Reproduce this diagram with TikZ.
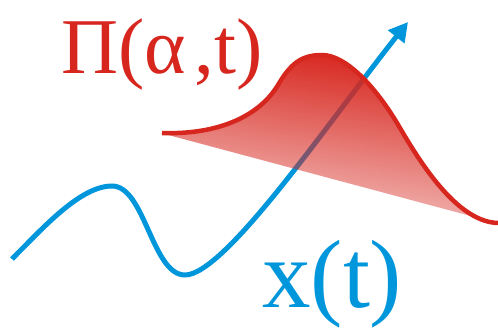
\documentclass[tikz,border=0pt]{standalone}
\usepackage{fontspec}
\setmainfont{Liberation Serif}
\usetikzlibrary{arrows.meta,fadings}
\definecolor{myred}{RGB}{215,38,30}
\definecolor{myblue}{RGB}{0,150,219}
\tikzfading[name=bellfade, top color=transparent!0, middle color=transparent!30, bottom color=transparent!72]
\tikzset{
  xcurve/.style={draw=myblue, line width=5pt, -{Triangle[length=19pt,width=20pt]}},
  bellline/.style={draw=myred, line width=4.5pt},
  bellfill/.style={fill=myred, path fading=bellfade, fading angle=-15},
  bigred/.style={text=myred, inner sep=0pt, anchor=base west, font=\fontsize{79}{79}\selectfont},
  bigblue/.style={text=myblue, inner sep=0pt, anchor=base west, font=\fontsize{97}{97}\selectfont}
}
\begin{document}
\begin{tikzpicture}[x=1pt,y=1pt]
\useasboundingbox (0,0) rectangle (498,327);
% blue trajectory
\coordinate (xs) at (12,68);
\coordinate (xp) at (112,141);
\coordinate (xb) at (185,52);
\coordinate (xe) at (408,305);
\draw[xcurve] (xs) .. controls (42,98) and (80,141) .. (xp)
  .. controls (145,141) and (152,52) .. (xb)
  .. controls (225,52) and (330,207) .. (xe);
% bell
\coordinate (A) at (162,194);
\coordinate (B) at (278,242);
\coordinate (C) at (322,272);
\coordinate (D) at (400,199);
\coordinate (E) at (498,104);
\path[bellfill] (A) .. controls (220,192) and (260,212) .. (B)
  .. controls (290,262) and (300,272) .. (C)
  .. controls (345,272) and (375,242) .. (D)
  .. controls (425,156) and (460,105) .. (E) -- cycle;
\draw[bellline] (A) .. controls (220,192) and (260,212) .. (B)
  .. controls (290,262) and (300,272) .. (C)
  .. controls (345,272) and (375,242) .. (D)
  .. controls (425,156) and (460,105) .. (E);
% labels
\node[bigred] (pi) at (61,253) {Π(α\kern9pt,t)};
\node[bigblue] (xt) at (262,20) {x(t)};
\end{tikzpicture}
\end{document}
